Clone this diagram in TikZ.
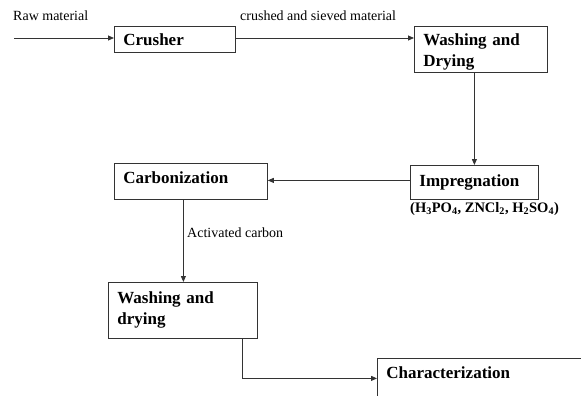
\documentclass[tikz,border=0pt]{standalone}
\usepackage{fontspec}
\setmainfont{Liberation Serif}
\usetikzlibrary{arrows.meta}
\begin{document}
\begin{tikzpicture}[x=1pt,y=-1pt,
  box/.style={draw=black!80, line width=0.8pt, rectangle, anchor=north west,
    inner xsep=9pt, inner ysep=0pt, align=left,
    font=\fontsize{17}{21}\selectfont\bfseries},
  lbl/.style={font=\fontsize{14}{16}\selectfont, inner sep=0pt, anchor=west},
  conn/.style={draw=black!80, line width=0.8pt, -{Triangle[length=6pt,width=5pt]}},
  edge/.style={draw=black!80, line width=0.8pt},
]
\useasboundingbox (0,0) rectangle (581,396);
\clip (0,0) rectangle (581,396);

\node[box, text width=103pt, minimum height=26pt] (crusher) at (114,26) {Crusher};
\node[box, text width=115pt, minimum height=46pt] (wash1) at (414,26) {\raisebox{-3pt}[\height][\depth]{Washing and}\\\raisebox{-3pt}[\height][\depth]{Drying}};
\node[box, text width=110pt, minimum height=34pt] (impreg) at (410,165) {Impregnation};
\node[box, text width=135pt, minimum height=36pt] (carb) at (114,163) {\raisebox{4pt}[\height][\depth]{Carbonization}};
\node[box, text width=131pt, minimum height=56pt] (wash2) at (108,282) {Washing and\\drying};
\node[box, draw=none, text width=200pt, minimum height=28pt] (char) at (377,358) {Characterization};
\draw[edge] ([yshift=-60pt]char.south west) -- (char.north west) -- ([xshift=40pt]char.north east);

\node[lbl] (raw) at (13,16) {Raw material};
\node[lbl] (crushed) at (240,16) {crushed and sieved material};
\node[lbl, font=\fontsize{14.5}{16}\selectfont\bfseries] (chem) at (410,209) {(H\textsubscript{3}PO\textsubscript{4}, ZNCl\textsubscript{2}, H\textsubscript{2}SO\textsubscript{4})};
\node[lbl] (act) at (187,233) {Activated carbon};

\coordinate (rawstart) at (14,38);
\coordinate (impout) at ([yshift=2pt]impreg.west);
\coordinate (carbout) at ([xshift=-7.5pt]carb.south);
\coordinate (washout) at ([xshift=59.5pt]wash2.south);
\coordinate (charin) at ([yshift=-6pt]char.west);
\draw[conn] (rawstart) -- (crusher.west |- rawstart);
\draw[conn] (crusher.east |- rawstart) -- (wash1.west |- rawstart);
\draw[conn] (impreg.north |- wash1.south) -- (impreg.north);
\draw[conn] (impout) -- (carb.east |- impout);
\draw[conn] (carbout) -- (carbout |- wash2.north);
\draw[conn] (washout) |- (charin);
\end{tikzpicture}
\end{document}
